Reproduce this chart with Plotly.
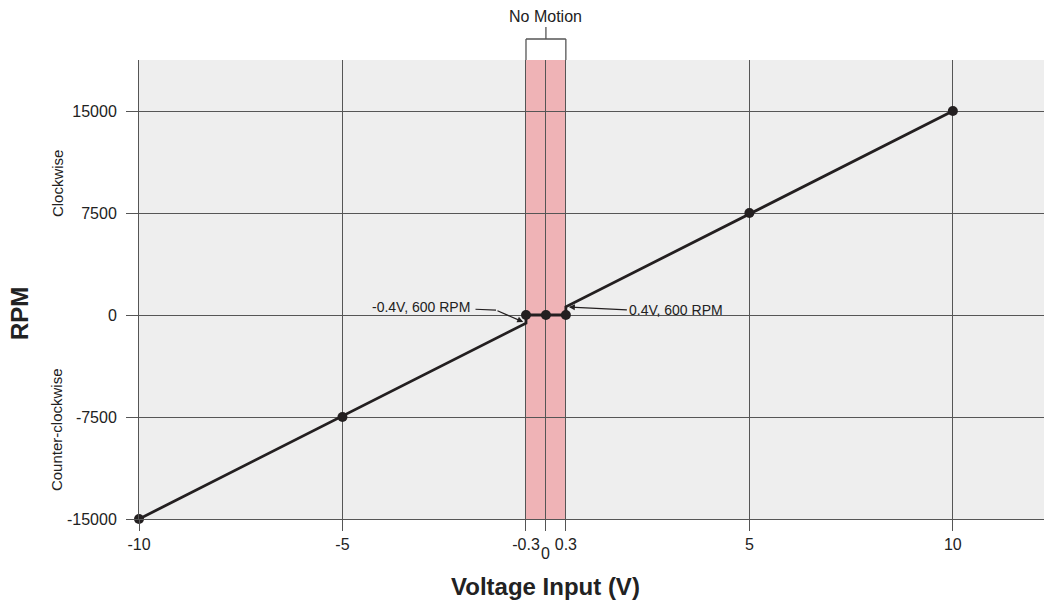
import numpy as np
import plotly.graph_objects as go

# ---- data (volts / RPM) ----
line_volts = [-10, -0.3, -0.3, 0, 0.3, 0.3, 10]
line_rpm = [-15000, -600, 0, 0, 0, 600, 15000]
dot_volts = [-10, -5, -0.3, 0, 0.3, 5, 10]
dot_rpm = [-15000, -7500, 0, 0, 0, 7500, 15000]
x_tick_volts = [-10, -5, -0.3, 0, 0.3, 5, 10]
x_tick_text = ["-10", "-5", "-0.3", "", "0.3", "5", "10"]
zero_label = "0"
y_tick_vals = [-15000, -7500, 0, 7500, 15000]
y_tick_text = ["-15000", "-7500", "0", "7500", "15000"]
band_volts = [-0.3, 0.3]

# schematic x scale: the no-motion zone is drawn enlarged
knots_v = [-10, -5, -0.3, 0, 0.3, 5, 10]
knots_d = [-10, -5, -0.49, 0, 0.49, 5, 10]


def xs(v):
    return list(np.interp(v, knots_v, knots_d))


FONT = "Arial, Liberation Sans, sans-serif"
GRID = "#555555"
INK = "#231f20"
TXT = "#222222"

fig = go.Figure()
fig.add_trace(go.Scatter(x=xs(line_volts), y=line_rpm, mode="lines",
                         line=dict(color=INK, width=2.8), hoverinfo="skip", cliponaxis=False))
fig.add_trace(go.Scatter(x=xs(dot_volts), y=dot_rpm, mode="markers",
                         marker=dict(color=INK, size=10), hoverinfo="skip", cliponaxis=False))

bx0, bx1 = xs(band_volts)
fig.add_shape(type="rect", xref="x", yref="paper", x0=bx0, x1=bx1, y0=0, y1=1,
              fillcolor="#efb3b6", line=dict(width=0), layer="below")

# bracket above band
br = dict(color=GRID, width=1.3)
fig.add_shape(type="line", xref="x", yref="paper", x0=bx0, x1=bx1, y0=1.0458, y1=1.0458, line=br)
fig.add_shape(type="line", xref="x", yref="paper", x0=bx0, x1=bx0, y0=1.0, y1=1.0458, line=br)
fig.add_shape(type="line", xref="x", yref="paper", x0=bx1, x1=bx1, y0=1.0, y1=1.0458, line=br)
fig.add_shape(type="line", xref="x", yref="paper", x0=0, x1=0, y0=1.0458, y1=1.0719, line=br)

fig.add_annotation(x=0, y=1.0937, xref="x", yref="paper", text="No Motion",
                   showarrow=False, font=dict(family=FONT, size=16, color=TXT),
                   xanchor="center", yanchor="middle")

# callouts
ann_font = dict(family=FONT, size=14, color=TXT)
# left callout: text + bent leader (horizontal run, then arrow)
fig.add_annotation(x=bx0, y=line_rpm[1], xref="x", yref="y", text="-0.4V, 600 RPM",
                   showarrow=False, xanchor="right", yanchor="middle",
                   xshift=-54, yshift=16, font=ann_font)
fig.add_annotation(x=bx0, y=line_rpm[1], xref="x", yref="y", text="",
                   showarrow=True, arrowhead=0, arrowwidth=1.2, arrowcolor=INK,
                   ax=-22, ay=-1, xshift=-30, yshift=13)
fig.add_annotation(x=bx0, y=line_rpm[1], xref="x", yref="y", text="",
                   showarrow=True, arrowhead=2, arrowsize=1, arrowwidth=1.2, arrowcolor=INK,
                   ax=-30, ay=-13, standoff=3)
fig.add_annotation(x=bx1, y=line_rpm[5], xref="x", yref="y", text="0.4V, 600 RPM",
                   showarrow=True, arrowhead=2, arrowsize=1, arrowwidth=1.2, arrowcolor=INK,
                   ax=61, ay=3, xanchor="left", standoff=3, font=ann_font)

# zero tick label, set lower than its neighbours
fig.add_annotation(x=xs([0])[0], y=-0.0741, xref="x", yref="paper", text=zero_label,
                   showarrow=False, xanchor="center", yanchor="middle",
                   font=dict(family=FONT, size=16, color=TXT))

# side labels
side_font = dict(family=FONT, size=15, color=TXT)
fig.add_annotation(x=-0.0905, y=0.732, xref="paper", yref="paper", text="Clockwise",
                   textangle=-90, showarrow=False, xanchor="center", yanchor="middle", font=side_font)
fig.add_annotation(x=-0.0905, y=0.194, xref="paper", yref="paper", text="Counter-clockwise",
                   textangle=-90, showarrow=False, xanchor="center", yanchor="middle", font=side_font)
fig.add_annotation(x=-0.1326, y=0.4488, xref="paper", yref="paper", text="<b>RPM</b>",
                   textangle=-90, showarrow=False, xanchor="center", yanchor="middle",
                   font=dict(family=FONT, size=24, color=TXT))
fig.add_annotation(x=0, y=-0.146, xref="x", yref="paper", text="<b>Voltage Input (V)</b>",
                   showarrow=False, xanchor="center", yanchor="middle",
                   font=dict(family=FONT, size=24, color=TXT))

fig.update_xaxes(range=[-10, 12.24], tickmode="array", tickvals=xs(x_tick_volts),
                 ticktext=x_tick_text, ticks="outside", ticklen=11, tickcolor=GRID,
                 showgrid=True, gridcolor=GRID, gridwidth=1, zeroline=False,
                 showline=True, linecolor=GRID, linewidth=1,
                 tickfont=dict(family=FONT, size=16, color=TXT))
fig.update_yaxes(range=[-15000, 18750], tickmode="array", tickvals=y_tick_vals,
                 ticktext=y_tick_text, ticks="outside", ticklen=12, tickcolor=GRID,
                 showgrid=True, gridcolor=GRID, gridwidth=1, zeroline=False,
                 showline=True, linecolor=GRID, linewidth=1, ticklabelstandoff=6,
                 tickfont=dict(family=FONT, size=16, color=TXT))

fig.update_layout(width=1044, height=603, margin=dict(l=139, r=0, t=60, b=84, autoexpand=False),
                  plot_bgcolor="#eeeeee", paper_bgcolor="white", showlegend=False,
                  font=dict(family=FONT))

fig.write_html("out.html", config={"responsive": False, "displayModeBar": False},
               default_width="1044px", default_height="603px",
               post_script="document.body.style.margin='0px';document.body.style.overflow='hidden';")
